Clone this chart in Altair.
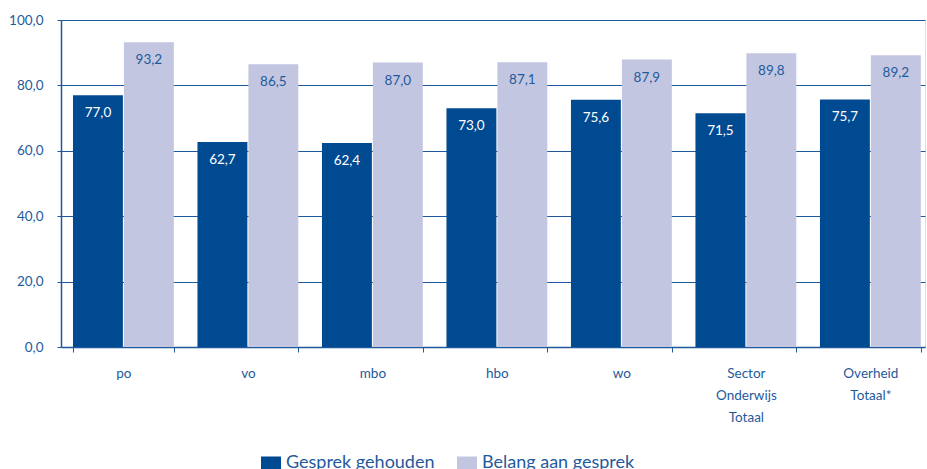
import altair as alt
import pandas as pd

categories = ["po", "vo", "mbo", "hbo", "wo", "Sector|Onderwijs|Totaal", "Overheid|Totaal*"]
gehouden = [77.0, 62.7, 62.4, 73.0, 75.6, 71.5, 75.7]
belang = [93.2, 86.5, 87.0, 87.1, 87.9, 89.8, 89.2]
series = ["Gesprek gehouden", "Belang aan gesprek"]

rows = []
for c, g, b in zip(categories, gehouden, belang):
    rows.append({"cat": c, "serie": series[0], "val": g})
    rows.append({"cat": c, "serie": series[1], "val": b})
df = pd.DataFrame(rows)
df["lab"] = df["val"].map(lambda v: f"{v:.1f}".replace(".", ","))

DARK = "#004a91"
LIGHT = "#c2c6e0"
TXT = "#1f5a9c"
FONT = "Lato"

xscale = alt.Scale(paddingInner=0.19, paddingOuter=0.065, align=0.74)
x = alt.X("cat:N", sort=categories, title=None, scale=xscale,
          axis=alt.Axis(labelExpr="split(datum.label, '|')", labelAngle=0,
                        labelFontSize=13.5, labelColor=TXT, labelFont=FONT,
                        labelLineHeight=22, labelPadding=21, labelBaseline="middle",
                        tickBand="extent", tickSize=5, tickColor=TXT,
                        domainColor=TXT, domainWidth=1.5, grid=False))
xo = alt.XOffset("serie:N", sort=series, scale=alt.Scale(paddingInner=0.02))
y = alt.Y("val:Q", title=None,
          scale=alt.Scale(domain=[0, 100]),
          axis=alt.Axis(values=[0, 20, 40, 60, 80, 100],
                        labelExpr="replace(format(datum.value, '.1f'), '.', ',')",
                        labelFontSize=13.5, labelColor=TXT, labelFont=FONT,
                        labelPadding=14, tickSize=4, tickColor=TXT,
                        domainColor=TXT, domainWidth=1.5,
                        grid=True, gridColor=TXT, gridWidth=1))

bars = alt.Chart(df).mark_bar().encode(
    x=x, xOffset=xo, y=y,
    color=alt.Color("serie:N", sort=series,
                    scale=alt.Scale(domain=series, range=[DARK, LIGHT]),
                    legend=alt.Legend(title=None, orient="none", direction="horizontal",
                                      legendX=200, legendY=433,
                                      symbolType="M-1,-0.65H1V0.65H-1Z", symbolSize=400,
                                      symbolStrokeWidth=0, symbolOpacity=1,
                                      labelFontSize=18, labelFont=FONT, labelColor=TXT,
                                      labelOffset=5, columnPadding=22)),
)

text = alt.Chart(df).mark_text(dy=18, fontSize=13.5, font=FONT, baseline="middle").encode(
    x=alt.X("cat:N", sort=categories, scale=xscale), xOffset=alt.XOffset("serie:N", sort=series),
    y=alt.Y("val:Q"),
    text="lab:N",
    color=alt.Color("serie:N", scale=alt.Scale(domain=series, range=["#ffffff", TXT]), legend=None),
)

chart = alt.layer(bars, text).resolve_scale(color="independent").properties(
    width=864, height=327,
    autosize=alt.AutoSizeParams(type="none"),
    padding={"left": 61, "top": 20, "right": 2, "bottom": 122},
).configure_view(stroke=None).configure(background="white")

chart.save("out.html", embed_options={"renderer": "svg", "actions": False})
